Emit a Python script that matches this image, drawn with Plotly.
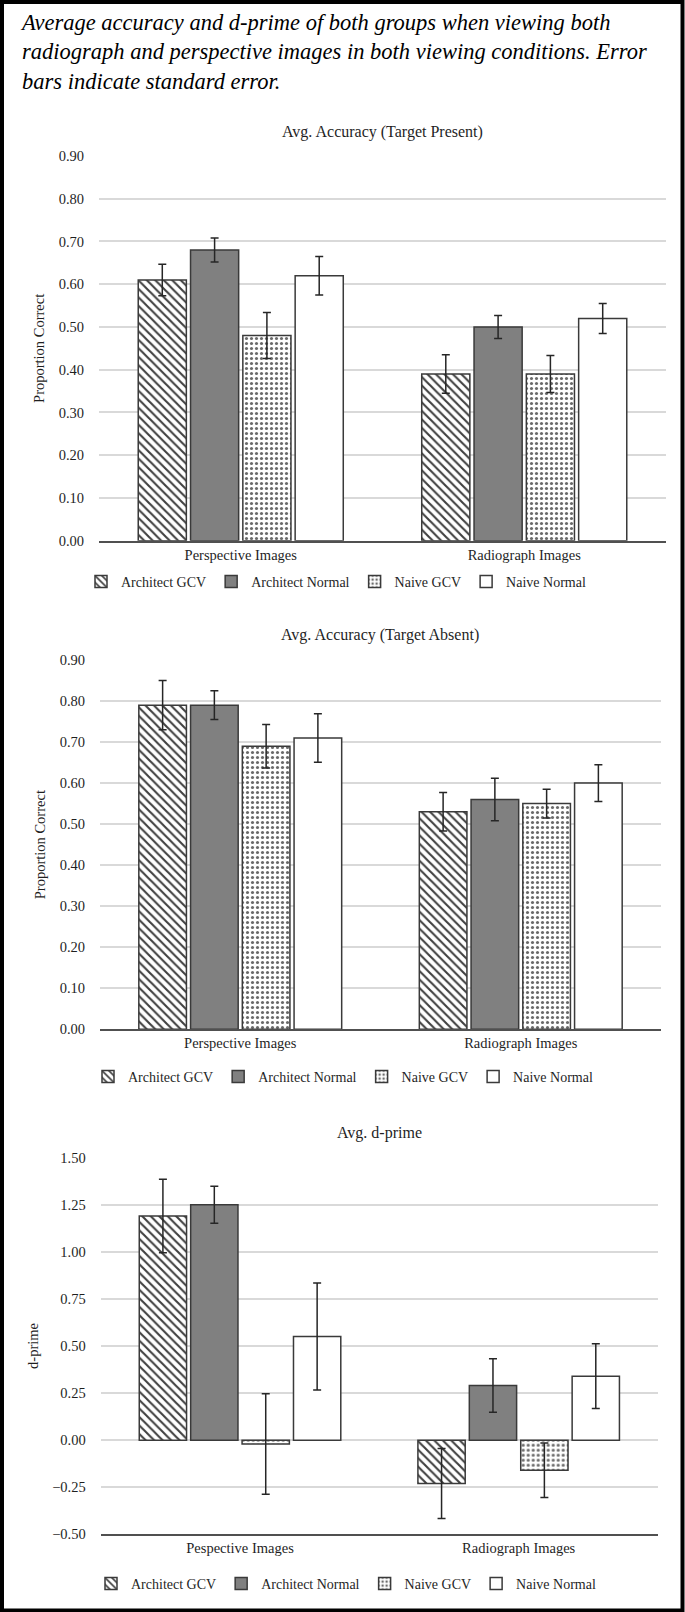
import plotly.graph_objects as go

W, H = 685, 1612

categories_acc = ["Perspective Images", "Radiograph Images"]
categories_dp = ["Pespective Images", "Radiograph Images"]
series_names = ["Architect GCV", "Architect Normal", "Naive GCV", "Naive Normal"]

# Avg. Accuracy (Target Present)
present_arch_gcv = [0.61, 0.39]
present_arch_normal = [0.68, 0.50]
present_naive_gcv = [0.48, 0.39]
present_naive_normal = [0.62, 0.52]
present_err_arch_gcv = [0.037, 0.045]
present_err_arch_normal = [0.028, 0.027]
present_err_naive_gcv = [0.054, 0.043]
present_err_naive_normal = [0.045, 0.035]

# Avg. Accuracy (Target Absent)
absent_arch_gcv = [0.79, 0.53]
absent_arch_normal = [0.79, 0.56]
absent_naive_gcv = [0.69, 0.55]
absent_naive_normal = [0.71, 0.60]
absent_err_arch_gcv = [0.060, 0.047]
absent_err_arch_normal = [0.035, 0.052]
absent_err_naive_gcv = [0.053, 0.035]
absent_err_naive_normal = [0.059, 0.045]

# Avg. d-prime
dprime_arch_gcv = [1.19, -0.23]
dprime_arch_normal = [1.25, 0.29]
dprime_naive_gcv = [-0.02, -0.16]
dprime_naive_normal = [0.55, 0.34]
dprime_err_arch_gcv = [0.195, 0.186]
dprime_err_arch_normal = [0.098, 0.142]
dprime_err_naive_gcv = [0.267, 0.145]
dprime_err_naive_normal = [0.284, 0.172]

FONT = "Liberation Serif"
OUTLINE = "#3a3a3a"
ERRC = "#262626"
TXT = "#1f1f1f"

styles = [
    dict(color="white", pattern=dict(shape="\\", fgcolor="#404040", bgcolor="white", size=6, solidity=0.35, fillmode="replace")),
    dict(color="#808080"),
    dict(color="white", pattern=dict(shape=".", fgcolor="#6a6a6a", bgcolor="white", size=5, solidity=0.3, fillmode="replace")),
    dict(color="white"),
]

charts = [
    dict(cats=categories_acc,
         vals=[present_arch_gcv, present_arch_normal, present_naive_gcv, present_naive_normal],
         errs=[present_err_arch_gcv, present_err_arch_normal, present_err_naive_gcv, present_err_naive_normal],
         title="Avg. Accuracy (Target Present)", ytitle="Proportion Correct",
         rng=[0, 0.9], dtick=0.1, x=(99, 666), y=(156, 540.7), title_y=132, legend_y=582, legend_x=336),
    dict(cats=categories_acc,
         vals=[absent_arch_gcv, absent_arch_normal, absent_naive_gcv, absent_naive_normal],
         errs=[absent_err_arch_gcv, absent_err_arch_normal, absent_err_naive_gcv, absent_err_naive_normal],
         title="Avg. Accuracy (Target Absent)", ytitle="Proportion Correct",
         rng=[0, 0.9], dtick=0.1, x=(100, 661), y=(660, 1029.3), title_y=635, legend_y=1077, legend_x=343),
    dict(cats=categories_dp,
         vals=[dprime_arch_gcv, dprime_arch_normal, dprime_naive_gcv, dprime_naive_normal],
         errs=[dprime_err_arch_gcv, dprime_err_arch_normal, dprime_err_naive_gcv, dprime_err_naive_normal],
         title="Avg. d-prime", ytitle="d-prime",
         rng=[-0.5, 1.5], dtick=0.25, x=(100.7, 658), y=(1157.7, 1534.3), title_y=1133, legend_y=1584, legend_x=346),
]

fig = go.Figure()
layout = dict(
    width=W, height=H, margin=dict(l=0, r=0, t=0, b=0),
    template="none", paper_bgcolor="white", plot_bgcolor="white",
    barmode="group", bargap=0.262, bargroupgap=0.08,
    font=dict(family=FONT, size=14, color=TXT),
    showlegend=True,
)
annotations = []
for i, ch in enumerate(charts):
    sfx = "" if i == 0 else str(i + 1)
    leg = "legend" + sfx
    for j, name in enumerate(series_names):
        st = styles[j]
        fig.add_trace(go.Bar(
            x=ch["cats"], y=ch["vals"][j], name=name,
            xaxis="x" + sfx, yaxis="y" + sfx, legend=leg,
            marker=dict(line=dict(color=OUTLINE, width=1.5), **st),
            error_y=dict(type="data", array=ch["errs"][j], visible=True, color=ERRC, thickness=1.5, width=4),
        ))
    x0, x1 = ch["x"]
    y0, y1 = ch["y"]
    layout["xaxis" + sfx] = dict(
        domain=[x0 / W, x1 / W], anchor="y" + sfx,
        showline=True, linecolor="#505050", linewidth=1.5,
        showgrid=False, ticks="", tickfont=dict(size=14.5, family=FONT, color=TXT),
        ticklabelstandoff=0,
    )
    layout["yaxis" + sfx] = dict(
        domain=[1 - y1 / H, 1 - y0 / H], anchor="x" + sfx,
        range=ch["rng"], dtick=ch["dtick"], tick0=0, tickformat=".2f",
        showgrid=True, gridcolor="#d9d9d9", gridwidth=1.5,
        zeroline=False, showline=False, ticks="",
        tickfont=dict(size=14.5, family=FONT, color=TXT),
        ticklabelstandoff=14,
        title=dict(text=ch["ytitle"], font=dict(size=14.5, family=FONT, color=TXT), standoff=10),
    )
    layout[leg] = dict(
        orientation="h", x=ch["legend_x"] / W, xanchor="center",
        y=1 - ch["legend_y"] / H, yanchor="middle",
        font=dict(size=14, family=FONT, color=TXT),
        bgcolor="rgba(0,0,0,0)", traceorder="normal",
    )
    annotations.append(dict(
        text=ch["title"], xref="paper", yref="paper",
        x=(x0 + x1) / 2 / W, y=1 - ch["title_y"] / H, xanchor="center", yanchor="middle",
        showarrow=False, font=dict(size=16, family=FONT, color=TXT),
    ))

annotations.append(dict(
    text="<i>Average accuracy and d-prime of both groups when viewing both<br>"
         "radiograph and perspective images in both viewing conditions. Error<br>"
         "bars indicate standard error.</i>",
    xref="paper", yref="paper", x=18 / W, y=1 - 8 / H, xanchor="left", yanchor="top",
    align="left", showarrow=False, font=dict(size=22.5, family=FONT, color="black"),
))
layout["annotations"] = annotations
layout["shapes"] = [dict(type="rect", xref="paper", yref="paper",
                         x0=2 / W, x1=1 - 2.5 / W, y0=1.5 / H, y1=1 - 2 / H,
                         line=dict(color="black", width=4), fillcolor="rgba(0,0,0,0)")]
fig.update_layout(**layout)

fig.write_html("out.html", config={"displayModeBar": False},
               post_script="document.body.style.margin='0';document.body.style.overflow='hidden';")
